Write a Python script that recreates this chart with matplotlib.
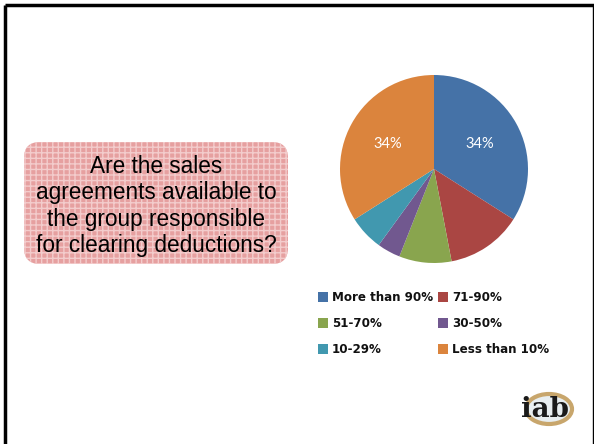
import numpy as np
import matplotlib.pyplot as plt
from matplotlib.patches import FancyBboxPatch, Rectangle, Ellipse

# survey answers
labels = ['More than 90%', '71-90%', '51-70%', '30-50%', '10-29%', 'Less than 10%']
shares = [34, 13, 9, 4, 6, 34]
colors = ['#4572A7', '#AA4643', '#89A54E', '#71588F', '#4198AF', '#DB843D']
question = 'Are the sales\nagreements available to\nthe group responsible\nfor clearing deductions?'

W, H = 594, 444
fig = plt.figure(figsize=(W / 100, H / 100), dpi=100)
bg = fig.add_axes([0, 0, 1, 1])
bg.set_xlim(0, W)
bg.set_ylim(H, 0)
bg.axis('off')

# slide frame
bg.plot([5, 5], [H, 5], color='black', lw=2.5, solid_capstyle='butt')
bg.plot([5, W], [5, 5], color='black', lw=2.5, solid_capstyle='butt')
bg.plot([593, 593], [5, H], color='black', lw=1)

# question box
box = FancyBboxPatch((38, 156), 236, 94, boxstyle='round,pad=14,rounding_size=16',
                     facecolor='#e6a0a0', edgecolor='#f3cccc', hatch='+++', lw=0)
bg.add_patch(box)
bg.text(156, 206, question, ha='center', va='center', fontsize=16.3,
        family=['Liberation Sans', 'DejaVu Sans'], linespacing=1.2, color='black')

# pie
R = 94
ax = fig.add_axes([(434 - R) / W, 1 - (169 + R) / H, 2 * R / W, 2 * R / H])
wedges, _ = ax.pie(shares, colors=colors, startangle=90, counterclock=False,
                   wedgeprops=dict(linewidth=0))
ax.set_xlim(-1, 1)
ax.set_ylim(-1, 1)
ax.set_aspect('equal')
for w, s in zip(wedges, shares):
    if s >= 30:
        ang = np.deg2rad((w.theta1 + w.theta2) / 2)
        ax.text(0.56 * np.cos(ang), 0.56 * np.sin(ang), f'{s}%', ha='center',
                va='center', color='white', fontsize=10.5, family='Lato')

# legend
rows = [297, 323, 349]
cols_x = [323, 443]
for i, (lab, c) in enumerate(zip(labels, colors)):
    x = cols_x[i % 2]
    y = rows[i // 2]
    bg.add_patch(Rectangle((x - 5, y - 5), 10, 10, facecolor=c, lw=0))
    bg.text(x + 9, y, lab, ha='left', va='center', fontsize=8.6,
            fontweight='bold', family='Liberation Sans Narrow', color='#111111')

# logo
bg.add_patch(Ellipse((549, 409), 46, 30, facecolor='#e8eef0', edgecolor='#c8a66c', lw=3))
bg.text(545, 409, 'iab', ha='center', va='center', fontsize=20, family='DejaVu Serif',
        fontweight='bold', color='#1a1a1a')

fig.savefig('out.png', dpi=100)
